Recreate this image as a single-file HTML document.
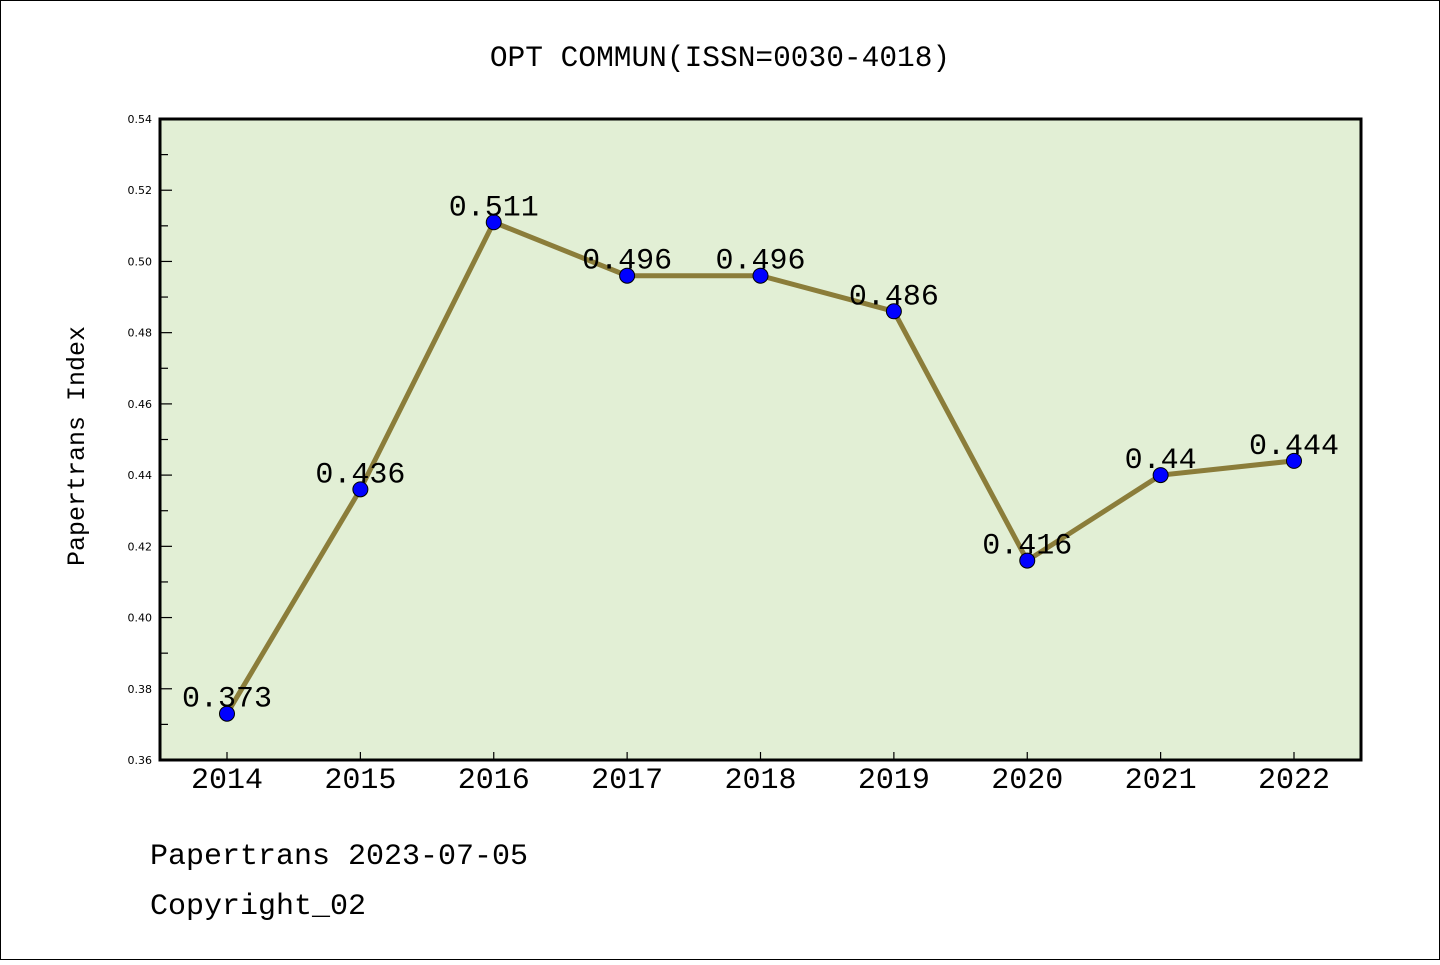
<!DOCTYPE html>
<html><head><meta charset="utf-8"><style>
body{margin:0;background:#fff}
svg text{font-family:"Liberation Mono","WenQuanYi Zen Hei",monospace}
</style></head><body>
<svg width="1440" height="960">
<rect x="0.5" y="0.5" width="1439" height="959" fill="#fff" stroke="#000"/>
<text x="720" y="66" font-size="29.5" text-anchor="middle">OPT COMMUN(ISSN=0030-4018)</text>
<rect x="160" y="119" width="1201" height="641" fill="#e2efd5"/>
<g id="ticks"></g>
<g id="marks"></g>
<rect x="160" y="119" width="1201" height="641" fill="none" stroke="#000" stroke-width="3"/>
<text transform="translate(84,446) rotate(-90)" font-size="25" text-anchor="middle">Papertrans Index</text>
<text x="150" y="864" font-size="30">Papertrans 2023-07-05</text>
<text x="150" y="914" font-size="30">Copyright_02</text>
</svg>
<script>
const years=["2014","2015","2016","2017","2018","2019","2020","2021","2022"];
const values=[0.373,0.436,0.511,0.496,0.496,0.486,0.416,0.44,0.444];
const valueLabels=["0.373","0.436","0.511","0.496","0.496","0.486","0.416","0.44","0.444"];
const yTicks=[0.36,0.38,0.40,0.42,0.44,0.46,0.48,0.50,0.52,0.54];
const NS="http://www.w3.org/2000/svg";
const x=i=>227+i*(1294-227)/8;
const y=v=>760-(v-0.36)/(0.18)*641;
function mk(t,a){const e=document.createElementNS(NS,t);for(const k in a)e.setAttribute(k,a[k]);return e;}
const tg=document.getElementById('ticks'),mg=document.getElementById('marks');
yTicks.forEach((v,i)=>{
 const l=mk('line',{x1:160,x2:172,y1:y(v),y2:y(v),stroke:'#000','stroke-width':1.2});
 
 
 tg.appendChild(l);
 const t=mk('text',{x:152,y:y(v)+4,'font-size':11,'text-anchor':'end'});
 t.setAttribute('style','font-family:"DejaVu Sans",sans-serif');
 t.textContent=v.toFixed(2);
 
 
 tg.appendChild(t);
 if(i<yTicks.length-1){const m=mk('line',{x1:160,x2:168,y1:y(v+0.01),y2:y(v+0.01),stroke:'#000','stroke-width':1.2});
 
 
 tg.appendChild(m);}
});
years.forEach((yr,i)=>{
 const l=mk('line',{x1:x(i),x2:x(i),y1:760,y2:752,stroke:'#000','stroke-width':1.2});
 
 
 tg.appendChild(l);
 const t=mk('text',{x:x(i),y:788,'font-size':30,'text-anchor':'middle'});
 t.textContent=yr;
 
 
 tg.appendChild(t);
});
const pl=mk('polyline',{points:values.map((v,i)=>x(i)+','+y(v)).join(' '),fill:'none',stroke:'#8b7d3a','stroke-width':5});


mg.appendChild(pl);
values.forEach((v,i)=>{
 const c=mk('circle',{cx:x(i),cy:y(v),r:7.5,fill:'#0000ff',stroke:'#000','stroke-width':1});
 
 
 mg.appendChild(c);
 const t=mk('text',{x:x(i),y:y(v)-7,'font-size':30,'text-anchor':'middle'});
 t.textContent=valueLabels[i];
 
 
 mg.appendChild(t);
});
</script>
</body></html>
